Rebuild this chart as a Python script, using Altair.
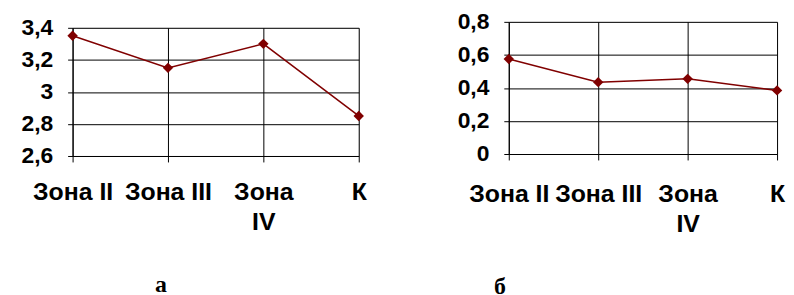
import altair as alt
import pandas as pd

categories = ["Зона II", "Зона III", "Зона IV", "К"]
values_a = [3.35, 3.15, 3.30, 2.85]
values_b = [0.575, 0.435, 0.455, 0.385]
ticks_a = [2.6, 2.8, 3.0, 3.2, 3.4]
ticks_b = [0.0, 0.2, 0.4, 0.6, 0.8]
panel_labels = ["а", "б"]

LINE = "#800000"
SANS = "Liberation Sans"
SERIF = "Liberation Serif"

label_expr_x = "datum.label == 'Зона IV' ? ['Зона', 'IV'] : datum.label"
label_expr_y = "replace(format(datum.value, '.1~f'), '.', ',')"


def panel(values, ticks, width, height, label, xpad, title_dx, title_offset):
    df = pd.DataFrame({"cat": categories, "val": values})
    x = alt.X(
        "cat:N",
        sort=categories,
        scale=alt.Scale(type="point", padding=0),
        axis=alt.Axis(
            title=None, labelAngle=0, labelExpr=label_expr_x,
            labelFont=SANS, labelFontSize=25, labelFontWeight="bold",
            labelColor="black", labelPadding=xpad, labelLineHeight=30,
            labelOverlap=False, labelFlush=False,
            tickSize=6, tickColor="black", domainColor="black",
            grid=True, gridColor="black", gridOpacity=1, gridWidth=1,
        ),
    )
    y = alt.Y(
        "val:Q",
        scale=alt.Scale(domain=[ticks[0], ticks[-1]], nice=False, zero=False),
        axis=alt.Axis(
            title=None, values=ticks, labelExpr=label_expr_y,
            labelFont=SANS, labelFontSize=23, labelFontWeight="bold",
            labelColor="black", labelPadding=15,
            tickSize=5, tickColor="black", domainColor="black",
            grid=True, gridColor="black", gridOpacity=1, gridWidth=1,
        ),
    )
    base = alt.Chart(df)
    line = base.mark_line(color=LINE, strokeWidth=1.5).encode(x=x, y=y)
    pts = base.mark_point(shape="diamond", filled=True, color=LINE, size=110, opacity=1).encode(x=x, y=y)
    return alt.layer(line, pts).properties(
        width=width,
        height=height,
        title=alt.TitleParams(
            text=label, orient="bottom", anchor="middle", dx=title_dx,
            offset=title_offset, font=SERIF, fontSize=24, fontWeight="bold",
            color="black", frame="group",
        ),
    )


def blank():
    df = pd.DataFrame({"cat": categories[:1]})
    return (
        alt.Chart(df)
        .mark_rule(strokeOpacity=0)
        .encode(x=alt.value(0), y=alt.value(0), y2=alt.value(0))
        .properties(width=1, height=1, view=alt.ViewBackground(stroke=None))
    )


left = panel(values_a, ticks_a, 288, 129, panel_labels[0], 18, -55, 39)
right = panel(values_b, ticks_b, 270, 133, panel_labels[1], 22, -144, 39)

left_col = alt.vconcat(blank(), left, spacing=6)
right_col = alt.vconcat(blank(), right, spacing=0)

chart = (
    alt.hconcat(left_col, right_col, spacing=89)
    .properties(padding={"left": 12, "top": 0, "right": 0, "bottom": 0})
    .configure_view(stroke="black", strokeWidth=1)
    .configure(background="white")
)

chart.save("out.html", embed_options={"renderer": "svg", "actions": False})
